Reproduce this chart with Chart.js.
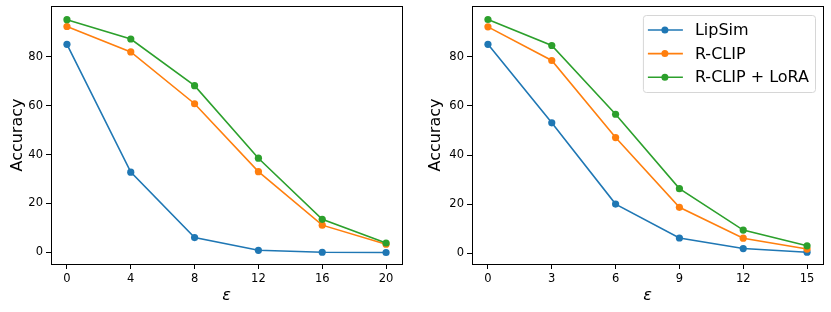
<!DOCTYPE html>
<html>
<head>
<meta charset="utf-8">
<script src="https://cdn.jsdelivr.net/npm/chart.js@4.4.1/dist/chart.umd.min.js"></script>
<style>
    body { margin: 0; background: #fff; }
    canvas { position: absolute; top: 0; }
    #grafico-esquerda { left: 0; }
    #grafico-direita { left: 415px; }
</style>
</head>
<body>
<canvas id="grafico-esquerda" width="415" height="312"></canvas>
<canvas id="grafico-direita" width="416" height="312"></canvas>
<script>
const nomesSeries = ["LipSim", "R-CLIP", "R-CLIP + LoRA"];
const coresSeries = ["#1f77b4", "#ff7f0e", "#2ca02c"];

// painel esquerdo
const epsEsquerda = [0, 4, 8, 12, 16, 20];
const lipSimEsquerda = [85.1, 32.8, 6.0, 0.8, 0.0, -0.1];
const rClipEsquerda = [92.4, 82.0, 60.8, 33.0, 11.1, 3.3];
const rClipLoraEsquerda = [95.2, 87.3, 68.2, 38.5, 13.5, 3.8];
const ticksXEsquerda = [0, 4, 8, 12, 16, 20];

// painel direito
const epsDireita = [0, 3, 6, 9, 12, 15];
const lipSimDireita = [85.1, 53.1, 20.0, 6.2, 1.9, 0.4];
const rClipDireita = [92.2, 78.5, 47.1, 18.7, 6.1, 1.7];
const rClipLoraDireita = [95.2, 84.6, 56.6, 26.3, 9.4, 3.0];
const ticksXDireita = [0, 3, 6, 9, 12, 15];

const ticksY = [0, 20, 40, 60, 80];

const fonte = "DejaVu Sans";

const molduraPlugin = {
    id: "moldura",
    afterDatasetsDraw: (chart) => {
        const { ctx, chartArea } = chart;
        ctx.save();
        ctx.strokeStyle = "#000";
        ctx.lineWidth = 1;
        ctx.strokeRect(
            Math.round(chartArea.left) + 0.5,
            Math.round(chartArea.top) + 0.5,
            Math.round(chartArea.right - chartArea.left),
            Math.round(chartArea.bottom - chartArea.top)
        );
        ctx.restore();
    },
};

const legendaPlugin = {
    id: "legendaCaixa",
    afterDraw: (chart, args, opts) => {
        if (!opts.mostrar) return;
        const { ctx, chartArea } = chart;
        const datasets = chart.data.datasets;
        ctx.save();
        ctx.font = "16px '" + fonte + "'";
        let larguraTexto = 0;
        datasets.forEach((ds) => {
            larguraTexto = Math.max(larguraTexto, ctx.measureText(ds.label).width);
        });
        const largura = 52 + larguraTexto + 6;
        const altura = 77;
        const x = chartArea.right - 8 - largura;
        const y = chartArea.top + 9;

        ctx.beginPath();
        ctx.roundRect(x + 0.5, y + 0.5, largura, altura, 3);
        ctx.fillStyle = "rgba(255,255,255,0.8)";
        ctx.fill();
        ctx.strokeStyle = "#d6d6d6";
        ctx.lineWidth = 1;
        ctx.stroke();

        datasets.forEach((ds, i) => {
            const yLinha = y + 15 + i * 23.6;
            ctx.strokeStyle = ds.borderColor;
            ctx.lineWidth = 1.6;
            ctx.beginPath();
            ctx.moveTo(x + 5, yLinha);
            ctx.lineTo(x + 40, yLinha);
            ctx.stroke();
            ctx.fillStyle = ds.borderColor;
            ctx.beginPath();
            ctx.arc(x + 22, yLinha, 3.5, 0, Math.PI * 2);
            ctx.fill();
            ctx.fillStyle = "#000";
            ctx.textBaseline = "middle";
            ctx.textAlign = "left";
            ctx.fillText(ds.label, x + 52, yLinha + 1);
        });
        ctx.restore();
    },
};

const criarGrafico = (id, eps, valores, ticksX, limX, limY, larguraY, padDireita, padTitulo, comLegenda) => {
    const ctx = document.getElementById(id).getContext("2d");

    return new Chart(ctx, {
        type: "line",
        data: {
            datasets: valores.map((serie, i) => {
                return {
                    label: nomesSeries[i],
                    data: eps.map((e, j) => ({ x: e, y: serie[j] })),
                    borderColor: coresSeries[i],
                    backgroundColor: coresSeries[i],
                    borderWidth: 1.6,
                    pointRadius: 3.6,
                    pointBorderWidth: 0,
                    pointBackgroundColor: coresSeries[i],
                    fill: false,
                    tension: 0,
                    order: 3 - i,
                };
            }),
        },
        options: {
            responsive: false,
            animation: false,
            devicePixelRatio: 1,
            events: [],
            layout: {
                padding: { left: 0, top: 6, right: padDireita, bottom: 0 },
            },
            plugins: {
                legend: { display: false },
                tooltip: { enabled: false },
                legendaCaixa: { mostrar: comLegenda },
            },
            scales: {
                x: {
                    type: "linear",
                    min: limX[0],
                    max: limX[1],
                    afterBuildTicks: (scale) => {
                        scale.ticks = ticksX.map((v) => ({ value: v }));
                    },
                    afterFit: (scale) => {
                        scale.height = 48;
                        scale.paddingLeft = 0;
                        scale.paddingRight = 0;
                    },
                    border: { display: false },
                    grid: {
                        drawOnChartArea: false,
                        drawTicks: true,
                        tickLength: 5,
                        color: "#000",
                        lineWidth: 1,
                    },
                    ticks: {
                        color: "#000",
                        padding: 3,
                        maxRotation: 0,
                        font: { family: fonte, size: 11.5 },
                    },
                    title: {
                        display: true,
                        text: "ε",
                        color: "#000",
                        padding: { top: 0, bottom: 7 },
                        font: { family: fonte, size: 16, style: "italic" },
                    },
                },
                y: {
                    type: "linear",
                    min: limY[0],
                    max: limY[1],
                    afterBuildTicks: (scale) => {
                        scale.ticks = ticksY.map((v) => ({ value: v }));
                    },
                    afterFit: (scale) => {
                        scale.width = larguraY;
                        scale.paddingTop = 0;
                        scale.paddingBottom = 0;
                    },
                    border: { display: false },
                    grid: {
                        drawOnChartArea: false,
                        drawTicks: true,
                        tickLength: 5,
                        color: "#000",
                        lineWidth: 1,
                    },
                    ticks: {
                        color: "#000",
                        padding: 3,
                        font: { family: fonte, size: 11.5 },
                    },
                    title: {
                        display: true,
                        text: "Accuracy",
                        color: "#000",
                        padding: { top: padTitulo, bottom: 0 },
                        font: { family: fonte, size: 16 },
                    },
                },
            },
        },
        plugins: [molduraPlugin, legendaPlugin],
    });
};

criarGrafico(
    "grafico-esquerda",
    epsEsquerda,
    [lipSimEsquerda, rClipEsquerda, rClipLoraEsquerda],
    ticksXEsquerda,
    [-1, 21],
    [-4.8, 100.8],
    51,
    13,
    8,
    false
);

criarGrafico(
    "grafico-direita",
    epsDireita,
    [lipSimDireita, rClipDireita, rClipLoraDireita],
    ticksXDireita,
    [-0.75, 15.75],
    [-4.4, 100.7],
    57,
    8,
    11,
    true
);
</script>
</body>
</html>
